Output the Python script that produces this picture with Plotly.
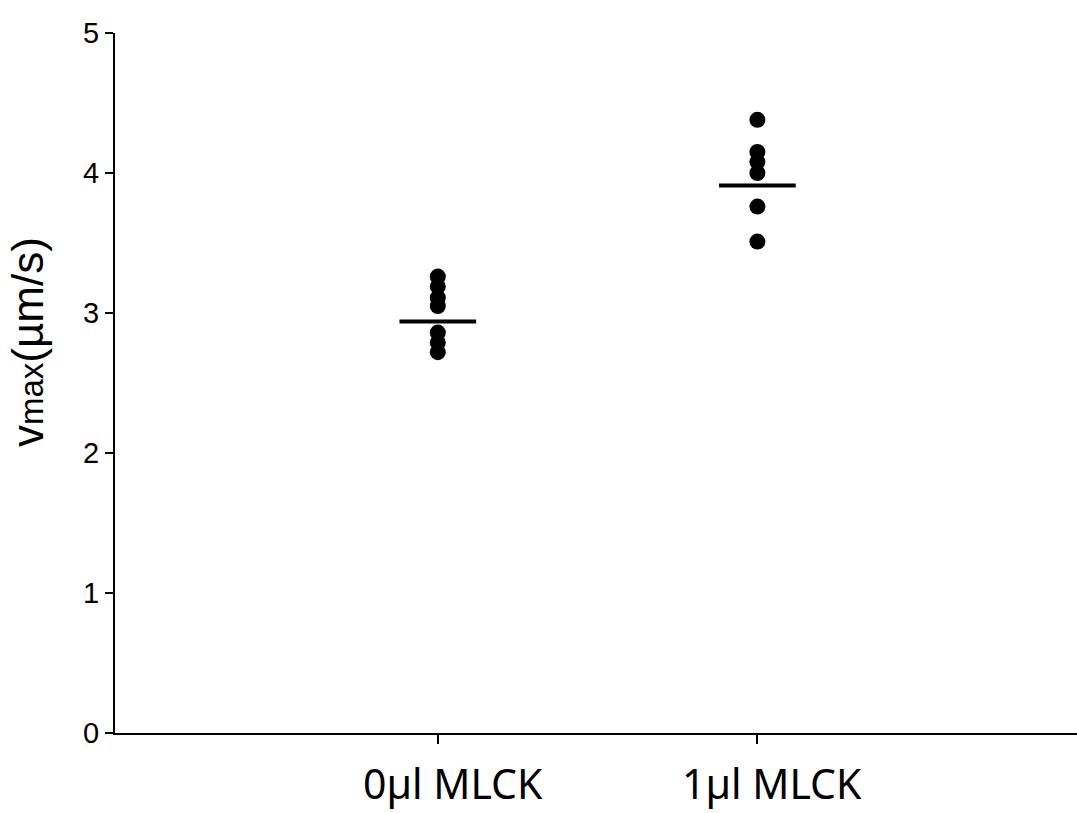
import plotly.graph_objects as go

categories = ["0\u00b5l MLCK", "1\u00b5l MLCK"]
group0_values = [3.26, 3.19, 3.11, 3.05, 2.86, 2.79, 2.72]
group1_values = [4.38, 4.15, 4.08, 4.00, 3.76, 3.51]
group_means = [2.94, 3.91]
y_ticks = [0, 1, 2, 3, 4, 5]

fig = go.Figure()
for i, vals in enumerate([group0_values, group1_values]):
    fig.add_trace(go.Scatter(
        x=[i] * len(vals), y=vals, mode="markers",
        marker=dict(size=16, color="black", symbol="circle"),
        showlegend=False, hoverinfo="skip"))
half = 0.12
for i, m in enumerate(group_means):
    fig.add_trace(go.Scatter(
        x=[i - half, i + half], y=[m, m], mode="lines",
        line=dict(color="black", width=4),
        showlegend=False, hoverinfo="skip"))

fig.update_layout(
    width=1077, height=813,
    margin=dict(l=115, r=0, t=33, b=80),
    plot_bgcolor="white", paper_bgcolor="white",
    font=dict(family="Liberation Sans, Arial, sans-serif", color="black"),
)
fig.update_xaxes(
    range=[-1.01, 2.0], tickvals=[0, 1], showticklabels=False,
    showline=True, linecolor="black", linewidth=2,
    ticks="outside", ticklen=9, tickwidth=2, tickcolor="black",
    showgrid=False, zeroline=False,
)
fig.update_yaxes(
    range=[0, 5], tickvals=y_ticks,
    showline=True, linecolor="black", linewidth=2,
    ticks="outside", ticklen=8, tickwidth=2, tickcolor="black",
    showgrid=False, zeroline=False,
    tickfont=dict(size=29),
)
# category labels (drawn as annotations, slightly right of their ticks as in the reference)
for i, lab in enumerate(categories):
    fig.add_annotation(
        text=lab, xref="x", yref="paper", x=i, y=-0.0714,
        xanchor="center", yanchor="middle", xshift=15, showarrow=False,
        font=dict(family="Noto Sans, Open Sans, sans-serif", size=41, color="black"),
    )
fig.add_annotation(
    text="v<span style='font-size:33px'>max</span>(\u00b5m/s)",
    xref="paper", yref="paper", x=-0.0904, y=0.5586,
    xanchor="center", yanchor="middle", textangle=-90,
    showarrow=False, font=dict(size=44, color="black"),
)
fig.write_html("out.html")
